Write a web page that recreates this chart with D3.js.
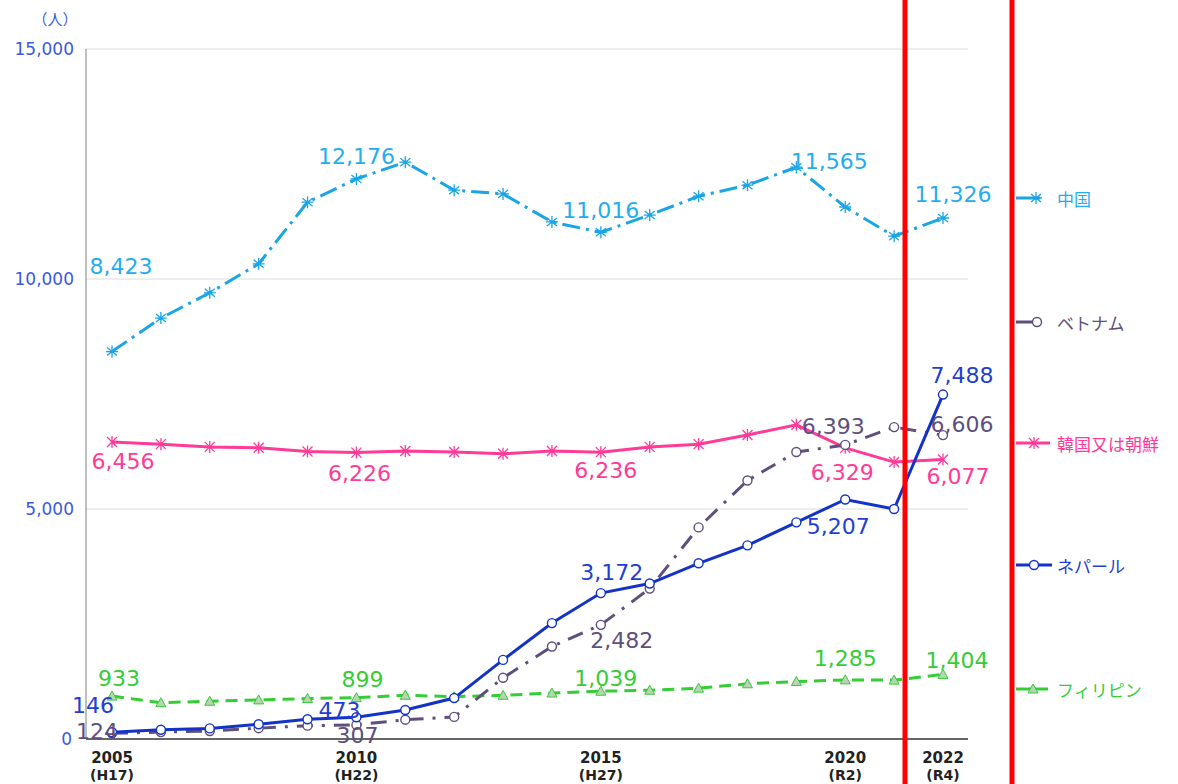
<!DOCTYPE html>
<html>
<head>
<meta charset="utf-8">
<script src="https://cdn.jsdelivr.net/npm/d3@7"></script>
<style>
  body { margin: 0; background: #fff; }
  svg text { font-family: "DejaVu Sans", "Noto Sans CJK JP", sans-serif; }
  svg text.jp { font-family: "Noto Sans CJK JP", sans-serif; }
</style>
</head>
<body>
<svg id="chart" width="1178" height="784"></svg>
<script>
// years on the x axis
const years = d3.range(2005, 2023);
const tickYears = [2005, 2010, 2015, 2020, 2022];
const tickEra = ["(H17)", "(H22)", "(H27)", "(R2)", "(R4)"];
const yTicks = [0, 5000, 10000, 15000];

// series values
const china = [8423, 9150, 9700, 10330, 11670, 12176, 12540, 11930, 11850, 11240, 11016, 11390, 11800, 12040, 12430, 11565, 10930, 11326];
const korea = [6456, 6410, 6350, 6330, 6250, 6226, 6260, 6240, 6200, 6260, 6236, 6350, 6410, 6610, 6830, 6329, 6020, 6077];
const vietnam = [124, 150, 175, 235, 290, 307, 420, 480, 1330, 2010, 2482, 3270, 4600, 5620, 6240, 6393, 6780, 6606];
const nepal = [146, 200, 230, 320, 430, 473, 630, 890, 1720, 2520, 3172, 3380, 3820, 4210, 4710, 5207, 5000, 7488];
const philippines = [933, 790, 820, 850, 880, 899, 950, 920, 950, 1000, 1039, 1060, 1105, 1200, 1250, 1285, 1280, 1404];

const labelYears = [2005, 2010, 2015, 2020, 2022];

const series = [
  { name: "中国", values: china, color: "#1AA5E6", text: "#22AEEE", dash: "18,6,3,6", marker: "star6",
    off: [[9,-85],[0,-22],[0,-22],[-16,-46],[10,-24]], legendY: 198, legLine: 1040, legMark: 1036 },
  { name: "ベトナム", values: vietnam, color: "#5E4F7D", text: "#5E4F7D", dash: "16,9,3,9", marker: "circle",
    off: [[-15,-2],[1,11],[21,16],[-12,-18],[19,-11]], legendY: 322, legLine: 1034, legMark: 1037 },
  { name: "韓国又は朝鮮", values: korea, color: "#FF3A97", text: "#FF3A97", dash: null, marker: "star",
    off: [[11,19],[3,21],[5,18],[-3,25],[15,17]], legendY: 443, legLine: 1050, legMark: 1034 },
  { name: "ネパール", values: nepal, color: "#1333C8", text: "#1F3FD0", dash: null, marker: "circle",
    off: [[-19,-27],[-17,-7],[11,-21],[-7,27],[19,-19]], legendY: 565, legLine: 1052, legMark: 1034 },
  { name: "フィリピン", values: philippines, color: "#35CC35", text: "#35CC35", dash: "12,7", marker: "triangle",
    off: [[7,-18],[6,-18],[5,-13],[0,-21],[14,-14]], legendY: 689, legLine: 1048, legMark: 1033 }
];

const svg = d3.select("#chart");
const margin = { left: 86, right: 968, top: 49, bottom: 739 };

const x = d3.scaleLinear().domain([2005, 2022]).range([112, 943]);
const y = d3.scaleLinear().domain([0, 15000]).range([margin.bottom, margin.top]);

// grid lines
svg.append("g")
  .selectAll("line")
  .data(yTicks.filter(d => d > 0))
  .join("line")
  .attr("x1", margin.left).attr("x2", margin.right)
  .attr("y1", d => y(d)).attr("y2", d => y(d))
  .attr("stroke", "#dcdcdc").attr("stroke-width", 1);

// y axis
svg.append("line")
  .attr("x1", margin.left).attr("x2", margin.left)
  .attr("y1", margin.top).attr("y2", margin.bottom)
  .attr("stroke", "#808080").attr("stroke-width", 1);

svg.append("g")
  .selectAll("text")
  .data(yTicks)
  .join("text")
  .attr("x", d => d === 0 ? 72 : 74)
  .attr("y", d => y(d))
  .attr("text-anchor", "end")
  .attr("dominant-baseline", "central")
  .attr("fill", "#3A5AE0")
  .attr("font-size", 17)
  .text(d => d3.format(",")(d));

svg.append("text")
  .attr("class", "jp")
  .attr("x", 55).attr("y", 18)
  .attr("text-anchor", "middle")
  .attr("dominant-baseline", "central")
  .attr("fill", "#3A5AE0")
  .attr("font-size", 15)
  .text("（人）");

// x axis
svg.append("line")
  .attr("x1", margin.left).attr("x2", margin.right)
  .attr("y1", margin.bottom).attr("y2", margin.bottom)
  .attr("stroke", "#333").attr("stroke-width", 1.5);

const xt = svg.append("g").selectAll("g")
  .data(tickYears)
  .join("g")
  .attr("transform", d => `translate(${x(d)},0)`);
xt.append("text")
  .attr("y", 758).attr("text-anchor", "middle").attr("dominant-baseline", "central")
  .attr("font-size", 15).attr("font-weight", "bold").attr("fill", "#222")
  .text(d => d);
xt.append("text")
  .attr("y", 775).attr("text-anchor", "middle").attr("dominant-baseline", "central")
  .attr("font-size", 14).attr("font-weight", "bold").attr("fill", "#222")
  .text((d, i) => tickEra[i]);

// marker drawing
function drawMarker(g, type, color) {
  if (type === "circle") {
    g.append("circle").attr("r", 4.5).attr("fill", "#fff").attr("stroke", color).attr("stroke-width", 1.4);
  } else if (type === "triangle") {
    g.append("path").attr("d", "M0,-5L5,4L-5,4Z").attr("fill", "#b9d3b5").attr("stroke", color).attr("stroke-width", 1);
  } else if (type === "star") {
    g.append("path").attr("d", "M0,-6V6M-5,-5L5,5M5,-5L-5,5")
      .attr("stroke", color).attr("stroke-width", 1.3).attr("fill", "none");
  } else {
    g.append("path").attr("d", "M0,-6V6M-5,-4L5,4M5,-4L-5,4M-6,0H6")
      .attr("stroke", color).attr("stroke-width", 1.3).attr("fill", "none");
  }
}

const line = d3.line().x((d, i) => x(years[i])).y(d => y(d));

// draw in order so blue ends on top
const drawOrder = [0, 2, 4, 1, 3];
drawOrder.forEach(si => {
  const s = series[si];
  const g = svg.append("g");
  g.append("path")
    .datum(s.values)
    .attr("d", line)
    .attr("fill", "none")
    .attr("stroke", s.color)
    .attr("stroke-width", 3)
    .attr("stroke-dasharray", s.dash);
  g.selectAll("g.m")
    .data(s.values)
    .join("g")
    .attr("class", "m")
    .attr("transform", (d, i) => `translate(${x(years[i])},${y(d)})`)
    .each(function() { drawMarker(d3.select(this), s.marker, s.color); });
});

// value labels
series.forEach(s => {
  svg.append("g").selectAll("text")
    .data(labelYears)
    .join("text")
    .attr("x", (d, i) => x(d) + s.off[i][0])
    .attr("y", (d, i) => y(s.values[years.indexOf(d)]) + s.off[i][1])
    .attr("text-anchor", "middle")
    .attr("dominant-baseline", "central")
    .attr("font-size", 22)
    .attr("fill", s.text)
    .text(d => d3.format(",")(s.values[years.indexOf(d)]));
});

// legend
series.forEach(s => {
  const g = svg.append("g").attr("transform", `translate(0,${s.legendY})`);
  g.append("line").attr("x1", 1016).attr("x2", s.legLine).attr("y1", 0).attr("y2", 0)
    .attr("stroke", s.color).attr("stroke-width", 3);
  const m = g.append("g").attr("transform", `translate(${s.legMark},0)`);
  drawMarker(m, s.marker, s.color);
  g.append("text").attr("class", "jp").attr("x", 1057).attr("y", 0)
    .attr("dominant-baseline", "central")
    .attr("font-size", 17).attr("fill", s.text)
    .text(s.name);
});

// red annotation lines
[905, 1012].forEach(px => {
  svg.append("line")
    .attr("x1", px).attr("x2", px).attr("y1", 0).attr("y2", 784)
    .attr("stroke", "#ff0000").attr("stroke-width", 5);
});
</script>
</body>
</html>
